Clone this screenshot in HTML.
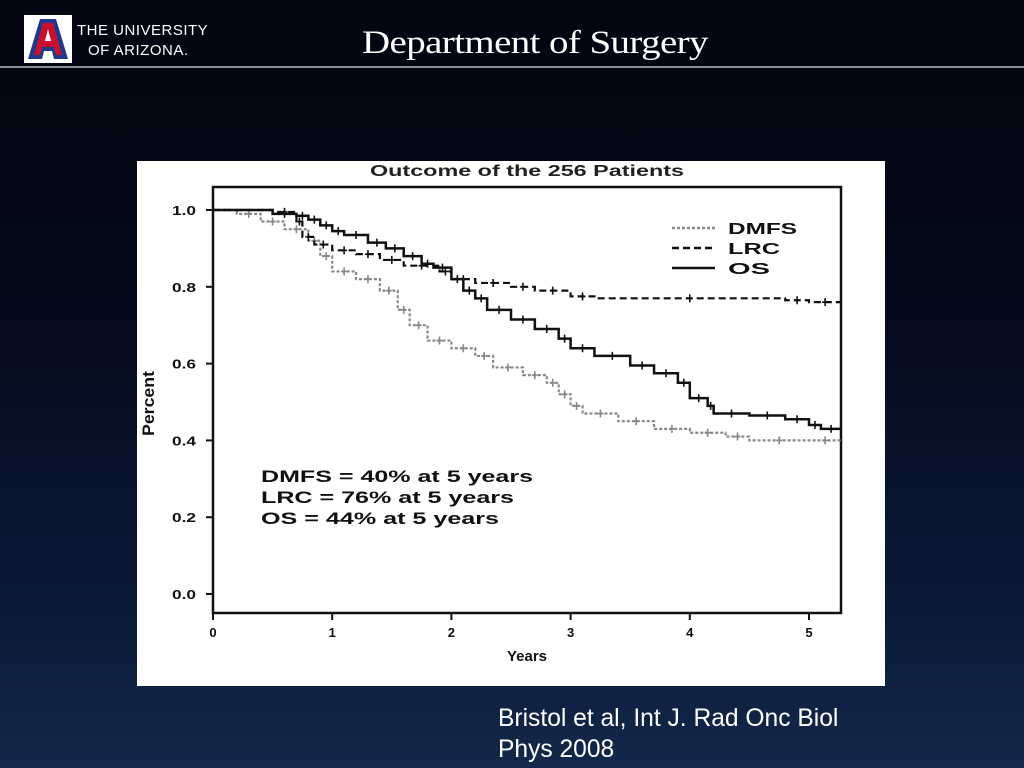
<!DOCTYPE html>
<html><head><meta charset="utf-8"><style>
body{margin:0;width:1024px;height:768px;overflow:hidden;background:linear-gradient(180deg,#03050f 0%,#050a1c 40%,#0b1a38 80%,#13284a 100%);font-family:"Liberation Sans",sans-serif;position:relative}
.hdr{position:absolute;left:0;top:0;width:1024px;height:66px;background:#030512}
.rule{position:absolute;left:0;top:66px;width:1024px;height:2px;background:#8a8fa0}
.title{position:absolute;left:362px;top:25px;color:#fff;font-family:"Liberation Serif",serif;font-size:33px;letter-spacing:-0.5px;transform:scaleX(1.18);transform-origin:left top;white-space:nowrap}
.uni{position:absolute;left:77px;color:#fff;font-family:"Liberation Sans",sans-serif;font-size:15px;letter-spacing:0.5px}
.cite{position:absolute;left:498px;top:703px;color:#fff;font-size:24.6px;line-height:31px;white-space:nowrap}
</style></head><body>
<div class="hdr"></div>
<div class="rule"></div>
<svg style="position:absolute;left:24px;top:15px" width="48" height="48">
<rect x="0" y="0" width="48" height="48" fill="#fff"/>
<path d="M4 44 L16 4 L32 4 L44 44 L30 44 L28 36 L20 36 L18 44Z" fill="#1e3a8a"/>
<path d="M10 40 L19 8 L29 8 L38 40 L32 40 L30 32 L18 32 L16 40Z" fill="#c8102e"/>
<path d="M21 26 L24 14 L27 26Z" fill="#fff"/>
</svg>
<div class="uni" style="top:22px">THE UNIVERSITY</div>
<div class="uni" style="top:42px;left:88px">OF ARIZONA.</div>
<div class="title">Department of Surgery</div>
<svg id="chart" style="position:absolute;left:137px;top:161px" width="748" height="525"></svg>
<div class="cite">Bristol et al, Int J. Rad Onc Biol<br>Phys 2008</div>
<script>
const xTicks=[0,1,2,3,4,5];
const yTicks=[0.0,0.2,0.4,0.6,0.8,1.0];
const osT=[0,0.5,0.7,0.8,0.9,1.0,1.1,1.3,1.45,1.6,1.75,1.85,2.0,2.1,2.2,2.3,2.5,2.7,2.9,3.0,3.2,3.5,3.7,3.9,4.0,4.15,4.2,4.5,4.8,5.0,5.1,5.27];
const osV=[1.0,0.99,0.985,0.975,0.96,0.945,0.935,0.915,0.9,0.88,0.86,0.85,0.82,0.79,0.77,0.74,0.715,0.69,0.665,0.64,0.62,0.595,0.575,0.55,0.51,0.49,0.47,0.465,0.455,0.44,0.43,0.43];
const lrcT=[0,0.5,0.7,0.75,0.85,1.0,1.2,1.4,1.6,1.9,2.0,2.2,2.5,2.7,3.0,3.2,4.8,5.0,5.27];
const lrcV=[1.0,0.995,0.97,0.93,0.91,0.895,0.885,0.87,0.855,0.84,0.82,0.81,0.8,0.79,0.775,0.77,0.765,0.76,0.76];
const dmT=[0,0.2,0.4,0.6,0.8,0.9,1.0,1.2,1.4,1.55,1.65,1.8,2.0,2.2,2.35,2.6,2.8,2.9,3.0,3.1,3.4,3.7,4.0,4.3,4.5,5.0,5.27];
const dmV=[1.0,0.99,0.97,0.95,0.92,0.88,0.84,0.82,0.79,0.74,0.7,0.66,0.64,0.62,0.59,0.57,0.55,0.52,0.49,0.47,0.45,0.43,0.42,0.41,0.40,0.40,0.40];
const NS="http://www.w3.org/2000/svg";
const svg=document.getElementById('chart');
const X=v=>76+v*119.2, Y=v=>433-v*384;
function el(t,a,name,txt){const e=document.createElementNS(NS,t);for(const k in a)e.setAttribute(k,a[k]);


if(txt!==undefined)e.textContent=txt;svg.appendChild(e);return e;}
el('rect',{x:0,y:0,width:748,height:525,fill:'#fff'},'chart-background');
el('text',{x:233,y:15,'font-size':16,'font-weight':'bold',fill:'#222',textLength:314,lengthAdjust:'spacingAndGlyphs'},'chart-title','Outcome of the 256 Patients');
el('rect',{x:76,y:26,width:628,height:426,fill:'none',stroke:'#111','stroke-width':2.5},'plot-frame');
xTicks.forEach(t=>{el('line',{x1:X(t),x2:X(t),y1:452,y2:459,stroke:'#111','stroke-width':2},'x-tick');
el('text',{x:X(t),y:476,'text-anchor':'middle','font-size':13,'font-weight':'bold',fill:'#111'},'x-tick-label',String(t));});
yTicks.forEach(t=>{el('line',{x1:69,x2:76,y1:Y(t),y2:Y(t),stroke:'#111','stroke-width':2},'y-tick');
el('text',{x:35,y:Y(t)+5,'font-size':13,'font-weight':'bold',fill:'#111',textLength:24,lengthAdjust:'spacingAndGlyphs'},'y-tick-label',t.toFixed(1));});
el('text',{x:390,y:500,'text-anchor':'middle','font-size':15,'font-weight':'bold',fill:'#111'},'x-axis-title','Years');
el('text',{x:0,y:0,'font-size':17,'font-weight':'bold',fill:'#111',textLength:65,lengthAdjust:'spacingAndGlyphs',transform:'translate(17 275) rotate(-90)'},'y-axis-title','Percent');
function step(T,V){let d='M'+X(T[0])+' '+Y(V[0]);for(let i=1;i<T.length;i++){d+=' H'+X(T[i])+' V'+Y(V[i]);}return d;}
function marks(T,V,name,col){for(let i=1;i<T.length-1;i++){const mx=(X(T[i])+X(T[i+1]))/2,my=Y(V[i]);
el('path',{d:`M${mx-3} ${my}H${mx+3}M${mx} ${my-4}V${my+4}`,stroke:col,'stroke-width':1.6},name);}}
el('path',{d:step(dmT,dmV),fill:'none',stroke:'#888','stroke-width':2.2,'stroke-dasharray':'3 2'},'dmfs-line');
marks(dmT,dmV,'dmfs-censor-mark','#888');
el('path',{d:step(lrcT,lrcV),fill:'none',stroke:'#111','stroke-width':2.2,'stroke-dasharray':'7 4'},'lrc-line');
marks(lrcT,lrcV,'lrc-censor-mark','#111');
el('path',{d:step(osT,osV),fill:'none',stroke:'#111','stroke-width':2.5},'os-line');
marks(osT,osV,'os-censor-mark','#111');
const leg=[['DMFS','#888','3 2',69],['LRC','#111','7 4',52],['OS','#111','',42]];
leg.forEach((l,i)=>{const y=67+i*20;el('line',{x1:535,x2:578,y1:y,y2:y,stroke:l[1],'stroke-width':2.5,'stroke-dasharray':l[2]},'legend-swatch');
el('text',{x:591,y:y+6,'font-size':16,'font-weight':'bold',fill:'#111',textLength:l[3],lengthAdjust:'spacingAndGlyphs'},'legend-entry',l[0]);});
const ann=[['DMFS = 40% at 5 years',272],['LRC = 76% at 5 years',253],['OS = 44% at 5 years',238]];
ann.forEach((s,i)=>
el('text',{x:124,y:321+i*21,'font-size':17,'font-weight':'bold',fill:'#111',textLength:s[1],lengthAdjust:'spacingAndGlyphs'},'summary-annotation',s[0]));
</script>
</body></html>
